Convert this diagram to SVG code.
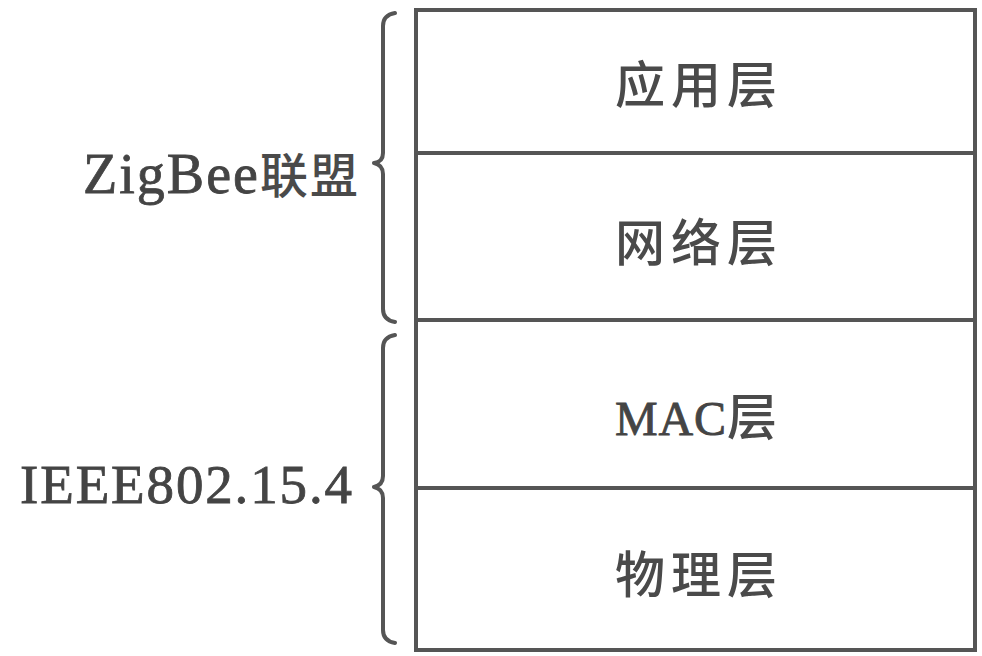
<svg xmlns="http://www.w3.org/2000/svg" width="982" height="656" viewBox="0 0 982 656">
<style>
.ln{stroke:#555;stroke-width:4;fill:none}
.br{stroke:#555;stroke-width:4;fill:none;stroke-linecap:round;stroke-linejoin:round}
.lab{font-family:"Liberation Serif","Noto Sans CJK SC",serif;fill:#444;stroke:#444;stroke-width:0.8}
.cn{font-family:"Noto Sans CJK SC","Liberation Serif",sans-serif;fill:#4a4a4a;stroke:none;font-weight:500}
</style>
<rect width="982" height="656" fill="#fff"/>
<g id="stack">
<rect class="ln" x="416" y="10" width="559" height="640"/>
</g>
<g id="layer-app">
<text class="cn" x="696" y="103" font-size="50" text-anchor="middle" textLength="162" lengthAdjust="spacing">应用层</text>
</g>
<g id="layer-net">
<text class="cn" x="696" y="261" font-size="50" text-anchor="middle" textLength="162" lengthAdjust="spacing">网络层</text>
</g>
<g id="layer-mac">
<text class="lab" x="696" y="435" font-size="48" text-anchor="middle" textLength="162" lengthAdjust="spacing">MAC<tspan class="cn" font-size="50">层</tspan></text>
</g>
<g id="layer-phy">
<text class="cn" x="696" y="593" font-size="50" text-anchor="middle" textLength="162" lengthAdjust="spacing">物理层</text>
</g>
<g id="connectors">
<line class="ln" x1="416" y1="153" x2="975" y2="153"/>
<line class="ln" x1="416" y1="320" x2="975" y2="320"/>
<line class="ln" x1="416" y1="488" x2="975" y2="488"/>
<path class="br" d="M395,13 Q383,15 383,26 L383,153 Q383,162 374,163 Q383,165 383,174 L383,309 Q383,320 395,322"/>
<path class="br" d="M395,335 Q383,337 383,348 L383,476 Q383,485 374,487 Q383,489 383,498 L383,630 Q383,641 395,643"/>
</g>
<g id="label-zigbee">
<text class="lab" x="83" y="193" font-size="56" textLength="275" lengthAdjust="spacing">ZigBee<tspan class="cn" font-size="48">联盟</tspan></text>
</g>
<g id="label-ieee">
<text class="lab" x="20" y="503" font-size="55" textLength="332" lengthAdjust="spacing">IEEE802.15.4</text>
</g>
</svg>
